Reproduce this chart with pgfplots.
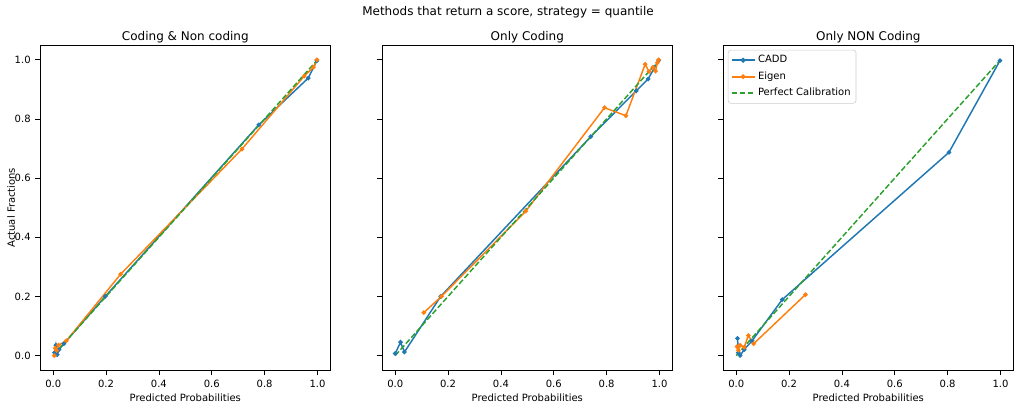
\documentclass[border=0pt]{standalone}
\usepackage{fontspec}
\setmainfont{DejaVu Sans}
\usepackage{pgfplots}
\pgfplotsset{compat=1.18}
\definecolor{c0}{HTML}{1F77B4}
\definecolor{c1}{HTML}{FF7F0E}
\definecolor{c2}{HTML}{2CA02C}
\pgfplotsset{
  calib/.style={
    scale only axis, width=218pt, height=244pt,
    xmin=-0.05, xmax=1.05, ymin=-0.05, ymax=1.05,
    xtick={0,0.2,0.4,0.6,0.8,1.0}, ytick={0,0.2,0.4,0.6,0.8,1.0},
    tick align=outside, tick pos=left,
    major tick length=3.5pt,
    tick style={black, line width=0.6pt},
    axis line style={line width=0.6pt},
    /pgf/number format/.cd, fixed, fixed zerofill, precision=1, assume math mode=true,
    /pgfplots/.cd,
    tick label style={font=\fontsize{7.5}{9}\selectfont},
    label style={font=\fontsize{7.5}{9}\selectfont},
    title style={font=\fontsize{9}{11}\selectfont, yshift=-8pt},
    xlabel={Predicted Probabilities},
    xlabel style={yshift=2pt},
    ylabel style={yshift=-7pt},
  },
  cadd/.style={c0, line width=1.1pt, mark=*, mark size=1.1pt, mark options={solid}},
  eigen/.style={c1, line width=1.1pt, mark=*, mark size=1.1pt, mark options={solid}},
  perfect/.style={c2, line width=1.1pt, dash pattern=on 4.2pt off 1.8pt, no marks},
}
\begin{document}
\begin{tikzpicture}
\begin{axis}[calib, at={(0pt,0pt)}, anchor=north west, title={Coding \& Non coding}, ylabel={Actual Fractions}]
\addplot[cadd] coordinates {(0.005,0.010)(0.010,0.035)(0.015,0.003)(0.022,0.020)(0.040,0.040)(0.197,0.200)(0.778,0.780)(0.965,0.938)(0.998,0.997)};
\addplot[eigen] coordinates {(0.004,0.000)(0.008,0.025)(0.013,0.017)(0.020,0.035)(0.050,0.050)(0.255,0.275)(0.714,0.698)(0.950,0.945)(0.985,0.975)(0.998,1.000)};
\addplot[perfect] coordinates {(0,0)(1,1)};
\end{axis}
\begin{axis}[calib, at={(256.5pt,0pt)}, anchor=north west, title={Only Coding}, yticklabels={}]
\addplot[cadd] coordinates {(0.000,0.007)(0.020,0.045)(0.035,0.012)(0.172,0.200)(0.740,0.740)(0.912,0.895)(0.957,0.935)(0.997,0.998)};
\addplot[eigen] coordinates {(0.108,0.145)(0.175,0.200)(0.494,0.488)(0.792,0.838)(0.873,0.811)(0.946,0.985)(0.960,0.960)(0.975,0.975)(0.985,0.962)(0.992,0.990)(0.997,1.000)};
\addplot[perfect] coordinates {(0,0)(1,1)};
\end{axis}
\begin{axis}[calib, at={(512.25pt,0pt)}, anchor=north west, title={Only NON Coding}, yticklabels={},
  legend style={at={(0.017,0.985)}, anchor=north west, draw=black!20, rounded corners=2pt,
    font=\fontsize{7.5}{9}\selectfont, cells={anchor=west}, row sep=1.2pt, inner sep=2pt},
  legend image post style={line width=1.3pt}]
\addplot[cadd] coordinates {(0.005,0.058)(0.008,0.010)(0.015,0.000)(0.030,0.020)(0.060,0.050)(0.174,0.189)(0.805,0.687)(0.998,0.997)};
\addlegendentry{CADD}
\addplot[eigen] coordinates {(0.003,0.030)(0.008,0.018)(0.015,0.035)(0.030,0.028)(0.046,0.068)(0.066,0.040)(0.262,0.206)};
\addlegendentry{Eigen}
\addplot[perfect] coordinates {(0,0)(1,1)};
\addlegendentry{Perfect Calibration}
\end{axis}
\node[font=\fontsize{9}{11}\selectfont] at (351pt,24.75pt) {Methods that return a score, strategy = quantile};
\pgfresetboundingbox
\path[use as bounding box] (-30pt,33.75pt) rectangle (732.75pt,-270pt);
\end{tikzpicture}
\end{document}
